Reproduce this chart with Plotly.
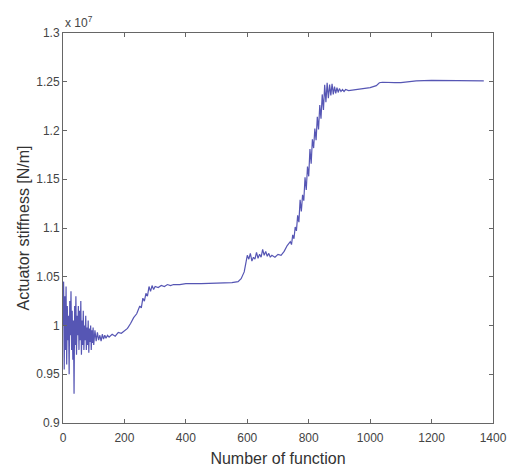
import plotly.graph_objects as go

# Number of function (x) and actuator stiffness (y, in units of 1e7 N/m)
func_num = [0, 2, 4, 6, 8, 10, 12, 14, 16, 18, 20, 22, 24, 26, 28, 30, 32, 34, 36, 38,
            40, 42, 44, 46, 48, 50, 52, 54, 56, 58, 60, 62, 64, 66, 68, 70, 72, 74, 76, 78,
            80, 82, 84, 86, 88, 90, 92, 94, 96, 98, 100, 104, 108, 112, 116, 120, 124, 128,
            132, 136, 140, 145, 150, 160, 170, 180, 190, 200, 210, 220, 230, 240, 250, 255,
            260, 265, 270, 275, 280, 285, 290, 295, 300, 310, 320, 330, 340, 350, 360, 380,
            400, 450, 500, 550, 570, 580, 590, 595, 600, 605, 610, 615, 620, 625, 630, 635,
            640, 645, 650, 655, 660, 665, 670, 675, 680, 690, 700, 710, 720, 730,
            740, 744, 748, 752, 756, 760, 764, 768, 772, 776, 780, 784, 788, 792, 796,
            800, 804, 808, 812, 816, 820, 824, 828, 832, 836, 840, 844, 848, 852, 856,
            860, 864, 868, 872, 876, 880, 884, 888, 892, 896, 900, 905,
            910, 915, 920, 930, 940, 950, 960, 980, 1000, 1020, 1030, 1040, 1060, 1080, 1100,
            1150, 1200, 1250, 1300, 1350, 1370]
stiffness = [1.000, 1.045, 0.955, 1.030, 0.975, 1.040, 0.960, 1.020, 0.985, 1.010,
             0.950, 1.025, 0.990, 1.035, 0.975, 1.015, 0.965, 1.005, 0.930, 1.020,
             0.980, 1.030, 0.970, 1.010, 0.990, 1.020, 0.975, 1.015, 0.985, 1.025,
             0.970, 1.005, 0.980, 1.015, 0.975, 1.000, 0.985, 1.010, 0.975, 0.998,
             0.980, 1.005, 0.972, 0.997, 0.983, 1.000, 0.975, 0.995, 0.982, 0.998,
             0.980, 0.995, 0.984, 0.993, 0.985, 0.990, 0.984, 0.991, 0.986, 0.990,
             0.987, 0.990, 0.988, 0.991, 0.989, 0.993, 0.992, 0.995, 0.997, 1.002,
             1.008, 1.012, 1.020, 1.018, 1.028, 1.025, 1.033, 1.030, 1.040, 1.035,
             1.041, 1.037, 1.040, 1.039, 1.041, 1.040, 1.042, 1.041, 1.042, 1.042,
             1.043, 1.043, 1.0435, 1.044, 1.045, 1.048, 1.055, 1.062, 1.072, 1.068,
             1.074, 1.066, 1.070, 1.068, 1.075, 1.069, 1.073, 1.070, 1.078, 1.072,
             1.076, 1.071, 1.074, 1.070, 1.072, 1.070, 1.073, 1.072, 1.076, 1.082,
             1.086, 1.083, 1.093, 1.089, 1.101, 1.097, 1.113, 1.106, 1.129, 1.117,
             1.134, 1.128, 1.152, 1.139, 1.163,
             1.153, 1.181, 1.166, 1.191, 1.182, 1.202, 1.190, 1.214, 1.201, 1.226,
             1.212, 1.237, 1.221, 1.247, 1.229,
             1.249, 1.233, 1.247, 1.236, 1.248, 1.237, 1.245, 1.238, 1.244, 1.239,
             1.243, 1.240,
             1.242, 1.240, 1.242, 1.241, 1.2415, 1.242,
             1.242, 1.243, 1.244, 1.246, 1.249, 1.2495, 1.249, 1.249, 1.249,
             1.251, 1.2515, 1.2515, 1.251, 1.251, 1.251]

x_ticks = [0, 200, 400, 600, 800, 1000, 1200, 1400]
y_ticks = [0.9, 0.95, 1.0, 1.05, 1.1, 1.15, 1.2, 1.25, 1.3]
y_tick_labels = ["0.9", "0.95", "1", "1.05", "1.1", "1.15", "1.2", "1.25", "1.3"]

font_family = "Liberation Sans, Arial, sans-serif"

fig = go.Figure()
fig.add_trace(go.Scatter(
    x=func_num, y=stiffness, mode="lines",
    line=dict(color="#5656b4", width=1.2),
    showlegend=False,
))

axis_common = dict(
    showgrid=False, zeroline=False, showline=True, linecolor="#666666", linewidth=1,
    mirror="ticks", ticks="inside", ticklen=4, tickcolor="#666666", automargin=False,
    tickfont=dict(family=font_family, size=12, color="#444444"),
)

fig.update_layout(
    width=511, height=473,
    margin=dict(l=63, r=18, t=33, b=50),
    paper_bgcolor="white", plot_bgcolor="white",
    xaxis=dict(range=[0, 1400], tickvals=x_ticks, ticklabelstandoff=4,
               title=dict(text="Number of function", standoff=8,
                          font=dict(family=font_family, size=16, color="#333333")),
               **axis_common),
    yaxis=dict(range=[0.9, 1.3], tickvals=y_ticks, ticktext=y_tick_labels,
               title=dict(text="Actuator stiffness [N/m]", standoff=2,
                          font=dict(family=font_family, size=16, color="#333333")),
               **axis_common),
    annotations=[dict(
        text="x 10<sup>7</sup>", xref="paper", yref="paper", x=0, y=1,
        xanchor="left", yanchor="bottom", showarrow=False, yshift=1,
        font=dict(family=font_family, size=12, color="#444444"),
    )],
)

fig.write_html("out.html")
